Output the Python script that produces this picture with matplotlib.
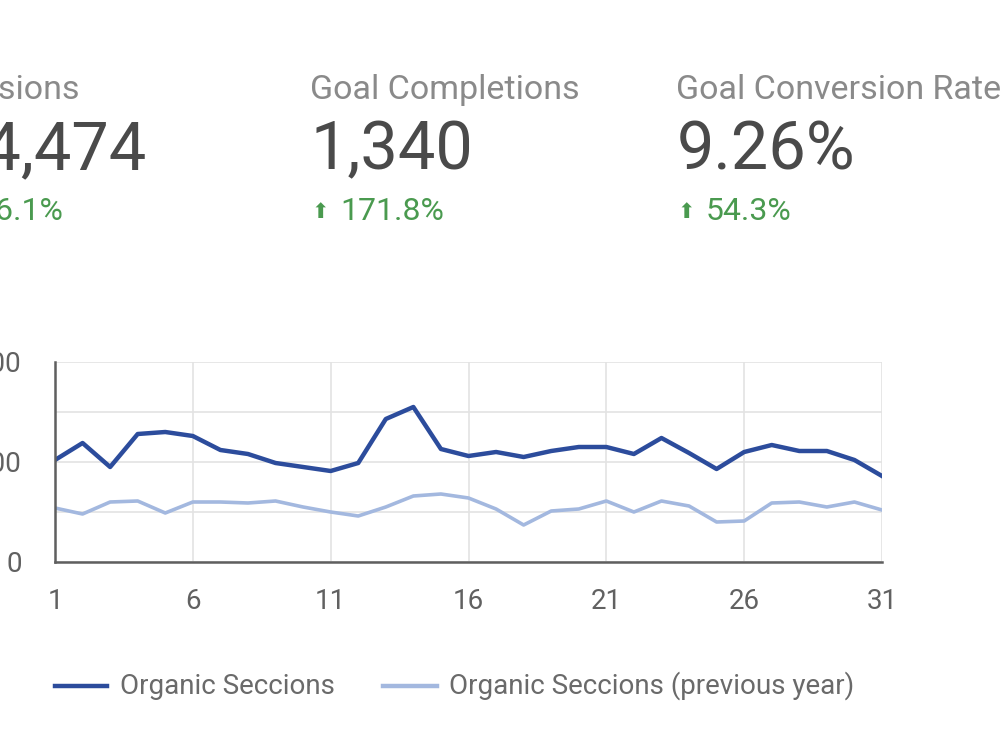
import matplotlib.pyplot as plt

plt.rcParams["font.family"] = ["Roboto", "DejaVu Sans"]

dias = list(range(1, 32))
sesiones = [102, 119, 95, 128, 130, 126, 112, 108, 99, 95, 91, 99, 143, 155, 113, 106,
            110, 105, 111, 115, 115, 108, 124, 109, 93, 110, 117, 111, 111, 102, 86]
sesiones_prev = [54, 48, 60, 61, 49, 60, 60, 59, 61, 55, 50, 46, 55, 66, 68, 64,
                 53, 37, 51, 53, 61, 50, 61, 56, 40, 41, 59, 60, 55, 60, 52]

tarjetas_titulo = ["Sessions", "Goal Completions", "Goal Conversion Rate"]
tarjetas_valor = ["14,474", "1,340", "9.26%"]
tarjetas_cambio = ["76.1%", "171.8%", "54.3%"]

x_ticks = [1, 6, 11, 16, 21, 26, 31]
y_ticks = [0, 50, 100, 150, 200]
y_labels = ["0", "", "100", "", "200"]

W, H = 1000, 750
fig = plt.figure(figsize=(10, 7.5), dpi=100)
fig.patch.set_facecolor("white")


def fx(px):
    return px / W


def fy(py):
    return 1 - py / H


gris_titulo = "#8a8a8a"
gris_valor = "#4a4a4a"
verde = "#4a9a4f"

# tarjetas (la primera queda cortada por el borde izquierdo)
fig.text(fx(80), fy(90), tarjetas_titulo[0], ha="right", va="center", fontsize=24.5, color=gris_titulo)
fig.text(fx(147), fy(151), tarjetas_valor[0], ha="right", va="center", fontsize=48, color=gris_valor)
fig.text(fx(64), fy(211), tarjetas_cambio[0], ha="right", va="center", fontsize=23, color=verde)

for i, x0 in enumerate([310, 676]):
    k = i + 1
    fig.text(fx(x0), fy(90), tarjetas_titulo[k], ha="left", va="center", fontsize=24.5, color=gris_titulo)
    fig.text(fx(x0 + 1), fy(151), tarjetas_valor[k], ha="left", va="center", fontsize=48, color=gris_valor)
    fig.text(fx(x0 + 1), fy(212), "\u2b06", ha="left", va="center", fontsize=15, color=verde,
             family=["DejaVu Sans"])
    fig.text(fx(x0 + 30), fy(211), tarjetas_cambio[k], ha="left", va="center", fontsize=23, color=verde)

# grafico de lineas
ax = fig.add_axes([fx(55), fy(562), fx(882) - fx(55), (562 - 362) / H])
ax.plot(dias, sesiones_prev, color="#a3b8df", lw=2.6, solid_joinstyle="round", zorder=3)
ax.plot(dias, sesiones, color="#2c4c9c", lw=3.2, solid_joinstyle="round", zorder=4)

ax.set_xlim(1, 31)
ax.set_ylim(0, 200)
ax.set_xticks(x_ticks)
ax.set_yticks(y_ticks)
ax.set_yticklabels(y_labels)
ax.grid(True, color="#e3e3e3", lw=1.2, zorder=0)
ax.set_axisbelow(True)
for lado in ["top", "right"]:
    ax.spines[lado].set_visible(False)
for lado in ["left", "bottom"]:
    ax.spines[lado].set_color("#5f5f5f")
    ax.spines[lado].set_linewidth(1.8)
    ax.spines[lado].set_zorder(5)
ax.tick_params(axis="x", length=0, pad=19, labelsize=20, labelcolor="#616161")
ax.tick_params(axis="y", length=0, pad=24, labelsize=20, labelcolor="#616161")
ax.set_facecolor("white")

# leyenda
fig.add_artist(plt.Line2D([fx(55), fx(107)], [fy(686), fy(686)], color="#2c4c9c", lw=3.2))
fig.text(fx(120), fy(686), "Organic Seccions", ha="left", va="center", fontsize=20, color="#6a6a6a")
fig.add_artist(plt.Line2D([fx(383), fx(437)], [fy(686), fy(686)], color="#a3b8df", lw=3.2))
fig.text(fx(449), fy(686), "Organic Seccions (previous year)", ha="left", va="center", fontsize=20,
         color="#6a6a6a")

fig.savefig("out.png", dpi=100, facecolor="white")
